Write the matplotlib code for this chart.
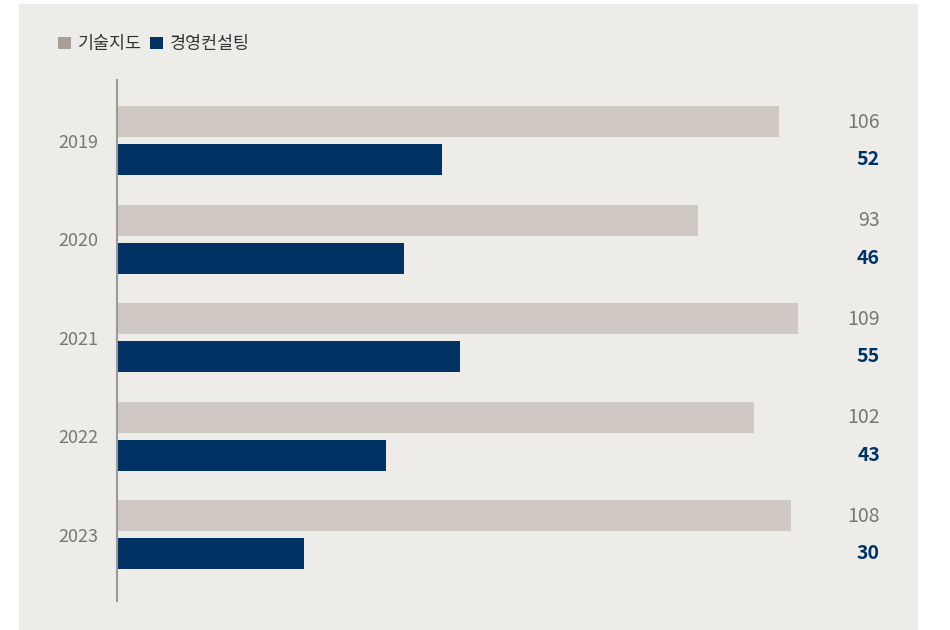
import matplotlib
matplotlib.use("Agg")
import matplotlib.pyplot as plt
from matplotlib.patches import Rectangle, Patch
import numpy as np

plt.rcParams['font.family'] = ['Noto Sans CJK KR', 'DejaVu Sans']

years = ['2019', '2020', '2021', '2022', '2023']
tech = [106, 93, 109, 102, 108]
consult = [52, 46, 55, 43, 30]
series_names = ['기술지도', '경영컨설팅']

c_tech = '#d0c8c3'
c_tech_leg = '#a89f98'
c_cons = '#003263'
c_panel = '#eeece9'

W, H = 950, 630
fig = plt.figure(figsize=(W / 100, H / 100), dpi=100)
fig.patch.set_facecolor('white')
fig.patches.append(Rectangle((19 / W, 0), (918 - 19) / W, (626) / H,
                             transform=fig.transFigure, facecolor=c_panel,
                             edgecolor='none', zorder=-10))

ax_left, ax_right = 117 / W, 918 / W
ax_top, ax_bot = 1 - 80 / H, 1 - 601 / H
ax = fig.add_axes([ax_left, ax_bot, ax_right - ax_left, ax_top - ax_bot])
ax.set_facecolor('none')

px_per_unit = (779 - 117) / 106
ax.set_xlim(0, (918 - 117) / px_per_unit)
group = 98.5
ax.set_ylim(4 + 66.5 / group, -60.5 / group)

y = np.arange(len(years))
bh = 31 / group
off = 19 / group
ax.barh(y - off, tech, height=bh, color=c_tech, zorder=2)
ax.barh(y + off, consult, height=bh, color=c_cons, zorder=2)

for spine in ['top', 'right', 'bottom']:
    ax.spines[spine].set_visible(False)
ax.spines['left'].set_color('#9a9a9a')
ax.spines['left'].set_linewidth(1.5)
ax.set_xticks([])
ax.set_yticks(y)
ax.set_yticklabels(years, fontsize=13, color='#777777')
ax.tick_params(axis='y', length=0, pad=13.5)

for yi, t, c in zip(y, tech, consult):
    ax.annotate(str(t), xy=(880 / W, yi - off + 0.01), xycoords=('figure fraction', 'data'),
                ha='right', va='center', fontsize=14, color='#777777')
    ax.annotate(str(c), xy=(880 / W, yi + off), xycoords=('figure fraction', 'data'),
                ha='right', va='center', fontsize=14, color=c_cons, fontweight='bold')

handles = [Patch(facecolor=c_tech_leg, edgecolor='none'),
           Patch(facecolor=c_cons, edgecolor='none')]
fig.legend(handles, series_names, loc='center left',
           bbox_to_anchor=(42 / W, 1 - 44 / H), ncol=2, frameon=False,
           handlelength=0.75, handleheight=0.75,
           handletextpad=0.4, columnspacing=0.5, labelcolor='#333333',
           prop={'size': 12.5, 'weight': 'medium'})

fig.savefig('out.png', dpi=100)
